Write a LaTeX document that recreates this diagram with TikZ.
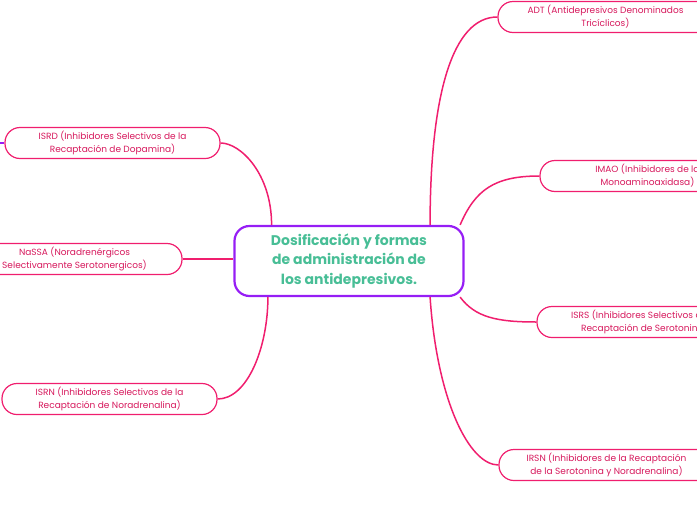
\documentclass[tikz,border=0pt]{standalone}
\usepackage{fontspec}
\setmainfont{Poppins}
\definecolor{rosa}{RGB}{240,30,110}
\definecolor{rosatexto}{RGB}{214,24,92}
\definecolor{morado}{RGB}{150,30,245}
\definecolor{verdetitulo}{RGB}{72,190,150}

\begin{document}
\begin{tikzpicture}[x=1pt, y=-1pt,
  rama/.style={draw=rosa, line width=1.2pt, rounded corners=15pt, minimum width=215pt, minimum height=31pt, align=center, text=rosatexto, font=\fontsize{9}{13}\selectfont},
  centro/.style={draw=morado, line width=2.2pt, rounded corners=15pt, minimum width=229pt, minimum height=70pt, align=center, text=verdetitulo, font=\fontsize{14}{19.5}\selectfont\bfseries},
  enlace/.style={draw=rosa, line width=1.5pt}]
\useasboundingbox (0,0) rectangle (697,520);

\node[centro] (Centro) at (349,261) {Dosificación y formas\\de administración de\\los antidepresivos.};

\node[rama] (ADT) at (605.5,17) {ADT (Antidepresivos Denominados\\Tricíclicos)};
\node[rama] (IMAO) at (647.5,176) {IMAO (Inhibidores de la\\Monoaminoaxidasa)};
\node[rama] (ISRS) at (644.5,322) {ISRS (Inhibidores Selectivos de la\\Recaptación de Serotonina)};
\node[rama] (IRSN) at (606.5,465) {IRSN (Inhibidores de la Recaptación\\de la Serotonina y Noradrenalina)};
\node[rama] (ISRD) at (112.5,143) {ISRD (Inhibidores Selectivos de la\\Recaptación de Dopamina)};
\node[rama] (NaSSA) at (74.5,259) {NaSSA (Noradrenérgicos\\Selectivamente Serotonergicos)};
\node[rama] (ISRN) at (109.5,399) {ISRN (Inhibidores Selectivos de la\\Recaptación de Noradrenalina)};
\coordinate (ISRDhijo) at (0,143);

\draw[enlace] (Centro.24.5) .. controls +(0,-130) and +(-45,0) .. (ADT.west);
\draw[enlace] (Centro.18.6) .. controls +(15,-35) and +(-45,0) .. (IMAO.west);
\draw[enlace] (Centro.-18.6) .. controls +(15,20) and +(-40,0) .. (ISRS.west);
\draw[enlace] (Centro.-24.5) .. controls +(7,104) and +(-29,0) .. (IRSN.west);
\draw[enlace] (ISRD.east) .. controls +(20,0) and +(0,-51) .. (Centro.155.5);
\draw[enlace] (NaSSA.east) -- (NaSSA.east -| Centro.west);
\draw[enlace] (ISRN.east) .. controls +(30,0) and +(0,50) .. (Centro.204.5);
\draw[draw=morado, line width=1.5pt] (ISRDhijo) -- (ISRD.west);
\end{tikzpicture}
\end{document}
